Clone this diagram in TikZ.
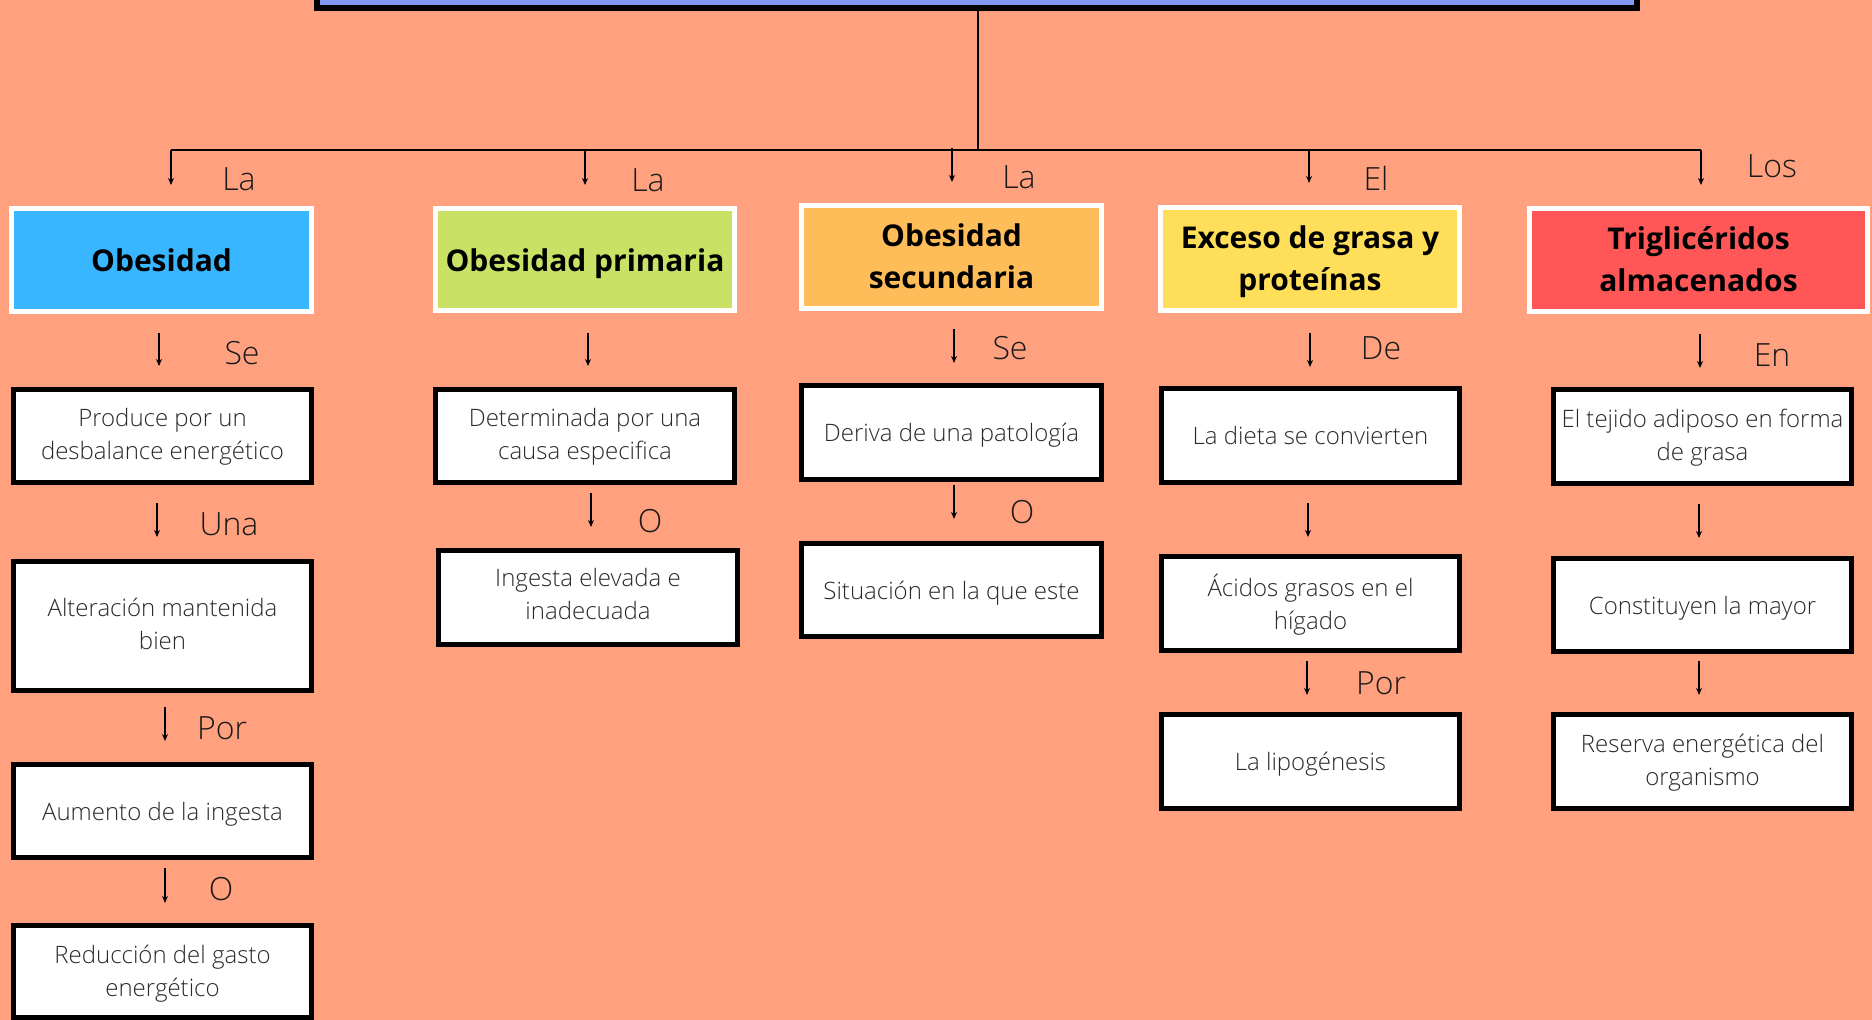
\documentclass[tikz,border=0pt]{standalone}
\usepackage{fontspec}
\setmainfont{Open Sans}
\newfontfamily\oslight{Open Sans Light}
\usetikzlibrary{arrows.meta,calc}
\definecolor{bg}{HTML}{FFA17F}
\definecolor{ctitle}{HTML}{8497F2}
\definecolor{cobes}{HTML}{38B6FF}
\definecolor{cprim}{HTML}{C9E265}
\definecolor{csec}{HTML}{FFBD59}
\definecolor{cexc}{HTML}{FFDE59}
\definecolor{ctri}{HTML}{FF5757}
\definecolor{txt}{HTML}{2A2A2A}
\definecolor{labc}{HTML}{1A1A1A}
\newcommand\conn[5]{\draw[arr] ($(#1.south)+(#3,#4)$) -- ($(#1.south |- #2.north)+(#3,-#5)$);}
\newcommand\hdrstrut{\vrule height 32.6pt depth 9.4pt width 0pt}
\newcommand\boxstrut{\vrule height 25.8pt depth 7.2pt width 0pt}
\begin{document}
\begin{tikzpicture}[x=1pt,y=-1pt,
  hdr/.style={draw=white,line width=5pt,align=center,font=\fontsize{30}{42}\selectfont\bfseries,text=black,inner sep=0pt,
    execute at begin node=\hdrstrut, execute at end node=\hdrstrut},
  hdrtwo/.style={hdr,text depth=1.4pt},
  box/.style={draw=black,fill=white,line width=5pt,align=center,font=\oslight\fontsize{24}{33}\selectfont,text=txt,inner sep=0pt,
    execute at begin node=\boxstrut, execute at end node=\boxstrut},
  boxtwo/.style={box,text depth=4pt},
  boxlow/.style={box,text depth=1.2pt},
  lab/.style={font=\oslight\fontsize{32}{38}\selectfont,text=labc,inner sep=0pt},
  arr/.style={line width=1.5pt,-{Stealth[length=7pt,width=6pt]}},
  ln/.style={line width=1.5pt}]
\useasboundingbox (0,0) rectangle (1872,1020);
\fill[bg] (0,0) rectangle (1872,1020);
\clip (0,0) rectangle (1872,1020);

% title box (mostly above the page)
\node[draw=black,fill=ctitle,line width=6pt,minimum width=1320pt,minimum height=65pt,inner sep=0pt] (title) at (977,-24.5) {};

% headers
\node[hdr,fill=cobes,minimum width=300pt,minimum height=103pt] (h1) at (161.5,260) {Obesidad};
\node[hdr,fill=cprim,minimum width=299pt,minimum height=102pt] (h2) at (585,259.5) {Obesidad primaria};
\node[hdrtwo,fill=csec,minimum width=300pt,minimum height=103pt] (h3) at (951.5,257) {Obesidad\\secundaria};
\node[hdrtwo,fill=cexc,minimum width=299pt,minimum height=103pt] (h4) at (1310,259) {Exceso de grasa y\\proteínas};
\node[hdrtwo,fill=ctri,minimum width=338pt,minimum height=103pt] (h5) at (1698.5,260) {Triglicéridos\\almacenados};

% boxes column 1
\node[boxtwo,minimum width=298pt,minimum height=93pt] (b11) at (162.5,436) {Produce por un\\desbalance energético};
\node[boxtwo,minimum width=298pt,minimum height=129pt] (b12) at (162.5,626) {Alteración mantenida\\bien};
\node[box,minimum width=298pt,minimum height=93pt] (b13) at (162.5,811) {Aumento de la ingesta};
\node[boxlow,minimum width=298pt,minimum height=92pt] (b14) at (162.5,971.5) {Reducción del gasto\\energético};
% column 2
\node[boxtwo,minimum width=299pt,minimum height=93pt] (b21) at (585,436) {Determinada por una\\causa especifica};
\node[box,minimum width=299pt,minimum height=94pt] (b22) at (588,597.5) {Ingesta elevada e\\inadecuada};
% column 3
\node[box,minimum width=300pt,minimum height=94pt] (b31) at (951.5,432.5) {Deriva de una patología};
\node[box,minimum width=300pt,minimum height=93pt] (b32) at (951.5,590) {Situación en la que este};
% column 4
\node[box,minimum width=298pt,minimum height=94pt] (b41) at (1310.5,435.5) {La dieta se convierten};
\node[boxtwo,minimum width=298pt,minimum height=94pt] (b42) at (1310.5,603.5) {Ácidos grasos en el\\hígado};
\node[box,minimum width=298pt,minimum height=94pt] (b43) at (1310.5,761.5) {La lipogénesis};
% column 5
\node[boxtwo,minimum width=298pt,minimum height=94pt] (b51) at (1702.5,436.5) {El tejido adiposo en forma\\de grasa};
\node[box,minimum width=298pt,minimum height=93pt] (b52) at (1702.5,605) {Constituyen la mayor};
\node[boxtwo,minimum width=298pt,minimum height=94pt] (b53) at (1702.5,761.5) {Reserva energética del\\organismo};

% tree at top
\coordinate (j) at (978,150);
\coordinate (t1) at (171,150);
\coordinate (t2) at (585,150);
\coordinate (t3) at (952,148);
\coordinate (t4) at (1309,150);
\coordinate (t5) at (1701,150);
\draw[ln] (j |- title.south) -- (j);
\draw[line width=2pt] (t1) -- (t5);
\draw[arr] (t1) -- ($(t1 |- h1.north)+(0,-21)$);
\draw[arr] (t2) -- ($(t2 |- h2.north)+(0,-21)$);
\draw[arr] (t3) -- ($(t3 |- h3.north)+(0,-21)$);
\draw[arr] (t4) -- ($(t4 |- h4.north)+(0,-22)$);
\draw[arr] (t5) -- ($(t5 |- h5.north)+(0,-21)$);

% connectors
\conn{h1}{b11}{-2.5}{19}{21}
\conn{h2}{b21}{3}{20}{21}
\conn{h3}{b31}{2.5}{18}{20}
\conn{h4}{b41}{0}{20}{19}
\conn{h5}{b51}{1.5}{20}{19}
\conn{b11}{b12}{-5.5}{18}{22}
\conn{b21}{b22}{6}{8}{21}
\conn{b31}{b32}{2.5}{3}{22}
\conn{b41}{b42}{-2.5}{18}{17}
\conn{b51}{b52}{-3.5}{18}{18}
\conn{b12}{b13}{2.5}{14}{21}
\conn{b42}{b43}{-3.5}{8}{17}
\conn{b52}{b53}{-3.5}{7}{17}
\conn{b13}{b14}{2.5}{8}{20}

% labels
\node[lab] (la1) at (239,179) {La};
\node[lab] (la2) at (648,180) {La};
\node[lab] (la3) at (1019,177) {La};
\node[lab] (la4) at (1376,178) {El};
\node[lab] (la5) at (1772,166) {Los};
\node[lab] (se1) at (242,353) {Se};
\node[lab] (una) at (229,524) {Una};
\node[lab] (por1) at (222,728) {Por};
\node[lab] (o1) at (221,889) {O};
\node[lab] (o2) at (650,521) {O};
\node[lab] (se3) at (1010,348) {Se};
\node[lab] (o3) at (1022,512) {O};
\node[lab] (de) at (1381,348) {De};
\node[lab] (por4) at (1381,683) {Por};
\node[lab] (en) at (1772,355) {En};
\end{tikzpicture}
\end{document}
